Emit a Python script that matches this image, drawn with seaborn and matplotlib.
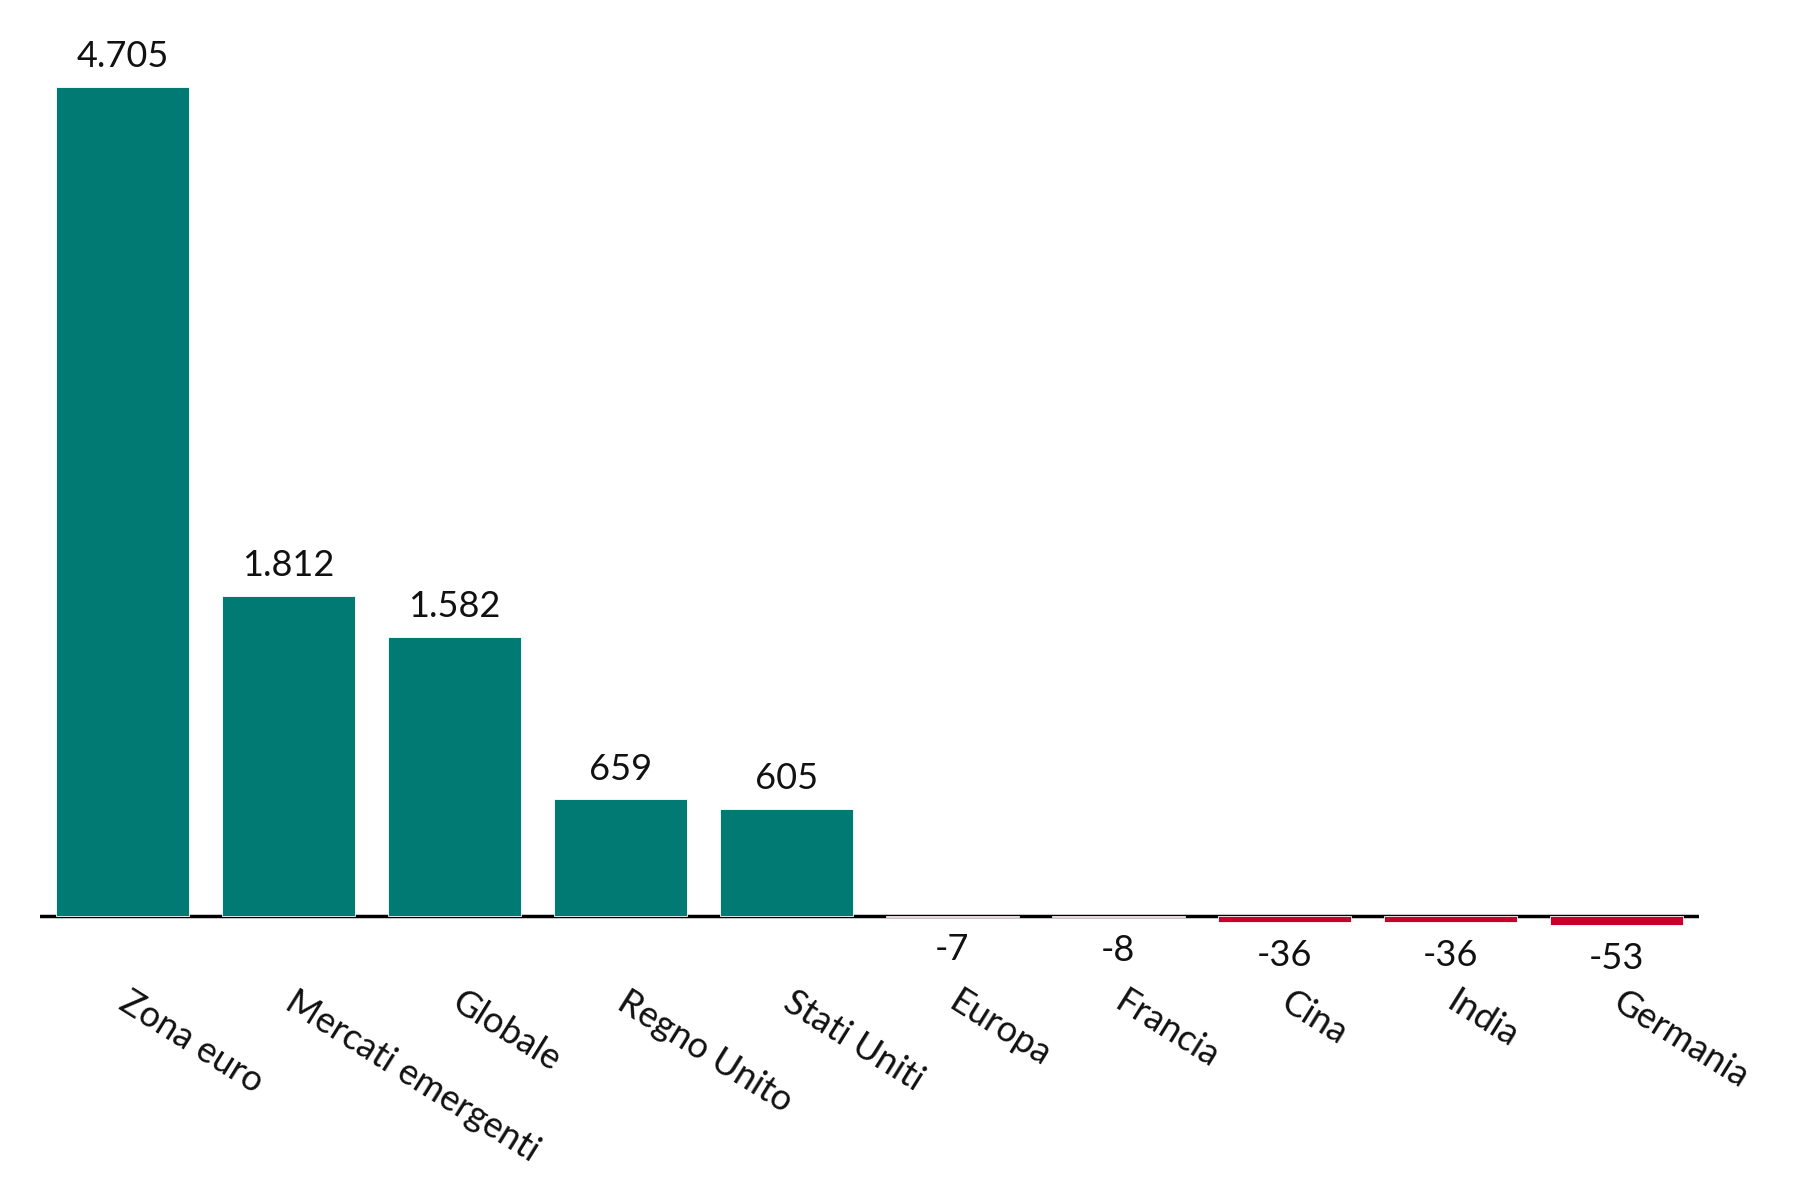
import matplotlib
matplotlib.use("Agg")
import matplotlib.pyplot as plt
import seaborn as sns
import pandas as pd

categories = ["Zona euro", "Mercati emergenti", "Globale", "Regno Unito", "Stati Uniti",
              "Europa", "Francia", "Cina", "India", "Germania"]
values = [4705, 1812, 1582, 659, 605, -7, -8, -36, -36, -53]
labels = ["4.705", "1.812", "1.582", "659", "605", "-7", "-8", "-36", "-36", "-53"]

TEAL = "#007A73"
RED = "#C4002B"

sns.set_theme(style="white")
plt.rcParams["font.family"] = ["Lato", "DejaVu Sans"]

df = pd.DataFrame({"cat": categories, "val": values})
df["sign"] = ["pos" if v >= 0 else "neg" for v in values]

fig = plt.figure(figsize=(18, 12), dpi=100)
ax = fig.add_axes([0.022, 0.193, 0.922, 0.781])

ax.axhline(0, color="black", linewidth=2.5, zorder=0.5)

sns.barplot(data=df, x="cat", y="val", hue="sign", palette={"pos": TEAL, "neg": RED},
            order=categories, width=0.8, dodge=False, legend=False, ax=ax,
            saturation=1, edgecolor="white", linewidth=0.6, zorder=2)

ax.set_xlim(-0.5, 9.5)
ax.set_ylim(-300, 5020)

for i, (v, lab) in enumerate(zip(values, labels)):
    if v >= 0:
        ax.annotate(lab, (i, v), xytext=(0, 10), textcoords="offset points",
                    ha="center", va="bottom", fontsize=26, color="#111111")
    else:
        ax.annotate(lab, (i, v), xytext=(0, -12), textcoords="offset points",
                    ha="center", va="top", fontsize=26, color="#111111")

ax.set_xticks(range(len(categories)))
ax.set_xticklabels(categories, rotation=-32, ha="left", va="center",
                   rotation_mode="anchor", fontsize=26, color="#111111")
ax.tick_params(axis="x", length=0, pad=22)
ax.set_yticks([])
ax.set_xlabel("")
ax.set_ylabel("")
for s in ax.spines.values():
    s.set_visible(False)

fig.savefig("out.png", dpi=100, facecolor="white")
